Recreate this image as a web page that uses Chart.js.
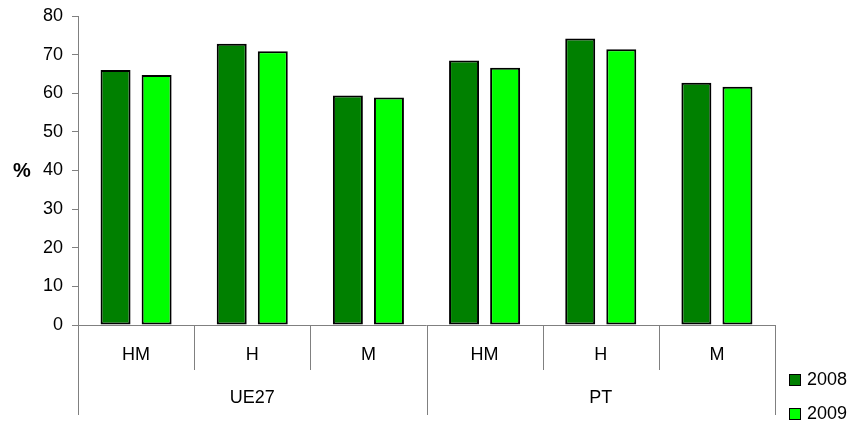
<!DOCTYPE html>
<html>
<head>
<meta charset="utf-8">
<script src="https://cdn.jsdelivr.net/npm/chart.js"></script>
<style>
  html, body { margin: 0; padding: 0; background: #fff; }
  #wrap { width: 857px; height: 423px; position: relative; }
</style>
</head>
<body>
<div id="wrap"><canvas id="chart"></canvas></div>
<script>
// --- Data ---
const groups = ['UE27', 'PT'];
const subLabels = ['HM', 'H', 'M'];
const seriesNames = ['2008', '2009'];
const values2008 = [66.0, 72.8, 59.4, 68.5, 74.2, 62.7];
const values2009 = [64.7, 70.9, 58.9, 66.6, 71.4, 61.7];
const yTicks = [0, 10, 20, 30, 40, 50, 60, 70, 80];

const FONT = "'Liberation Sans', Arial, sans-serif";
const AXIS_GREY = '#808080';

// one category per (group, sub) pair
const categories = [];
groups.forEach(g => subLabels.forEach(s => categories.push(s)));

// --- Custom x axis (two levels) + legend ---
const groupedAxis = {
    id: 'groupedAxis',
    afterDraw(chart) {
        const { ctx, chartArea, scales } = chart;
        const x = scales.x;
        const n = categories.length;
        const step = (chartArea.right - chartArea.left) / n;
        const bottom = chartArea.bottom;

        ctx.save();
        ctx.strokeStyle = AXIS_GREY;
        ctx.lineWidth = 1;

        // axis line at zero
        ctx.beginPath();
        ctx.moveTo(chartArea.left, bottom + 0.5);
        ctx.lineTo(chartArea.right, bottom + 0.5);
        ctx.stroke();

        // dividers
        for (let i = 0; i <= n; i++) {
            const px = Math.round(x.getPixelForValue(i) - step / 2) + 0.5;
            const outer = i % subLabels.length === 0;
            ctx.beginPath();
            ctx.moveTo(px, bottom);
            ctx.lineTo(px, outer ? bottom + 90 : bottom + 45);
            ctx.stroke();
        }

        ctx.fillStyle = '#000';
        ctx.font = '18px ' + FONT;
        ctx.textAlign = 'center';
        ctx.textBaseline = 'middle';
        categories.forEach((c, i) => {
            ctx.fillText(c, x.getPixelForValue(i), bottom + 30);
        });
        groups.forEach((g, gi) => {
            const first = gi * subLabels.length;
            const last = first + subLabels.length - 1;
            const cx = (x.getPixelForValue(first) + x.getPixelForValue(last)) / 2;
            ctx.fillText(g, cx, bottom + 73);
        });

        // y title, upright
        ctx.font = 'bold 20px ' + FONT;
        ctx.fillText('%', 22, (chartArea.top + chartArea.bottom) / 2 + 1);

        // legend
        ctx.font = '18px ' + FONT;
        ctx.textAlign = 'left';
        chart.data.datasets.forEach((ds, i) => {
            const ly = 374 + i * 34;
            ctx.fillStyle = ds.backgroundColor;
            ctx.fillRect(789.5, ly + 0.5, 11, 11);
            ctx.strokeStyle = '#000';
            ctx.strokeRect(789.5, ly + 0.5, 11, 11);
            ctx.fillStyle = '#000';
            ctx.fillText(ds.label, 807, ly + 6);
        });
        ctx.restore();
    }
};

new Chart(document.getElementById('chart'), {
    type: 'bar',
    data: {
        labels: categories,
        datasets: [
            {
                label: seriesNames[0],
                data: values2008,
                backgroundColor: '#008000',
                borderColor: '#000',
                borderWidth: 2,
                borderSkipped: false
            },
            {
                label: seriesNames[1],
                data: values2009,
                backgroundColor: '#00FF00',
                borderColor: '#000',
                borderWidth: 2,
                borderSkipped: false
            }
        ]
    },
    options: {
        responsive: true,
        maintainAspectRatio: false,
        animation: false,
        devicePixelRatio: 1,
        categoryPercentage: 0.707,
        barPercentage: 0.73,
        layout: { padding: { top: 16, right: 82, bottom: 98, left: 0 } },
        scales: {
            x: { display: false },
            y: {
                min: 0,
                max: 80,
                afterFit: s => { s.width = 78; s.paddingTop = 0; s.paddingBottom = 0; },
                afterBuildTicks: s => { s.ticks = yTicks.map(v => ({ value: v })); },
                ticks: {
                    color: '#000',
                    padding: 9,
                    font: { family: FONT, size: 18 }
                },
                border: { color: AXIS_GREY, width: 1 },
                grid: { drawOnChartArea: false, drawTicks: true, tickLength: 6, color: AXIS_GREY }
            }
        },
        plugins: {
            legend: { display: false },
            tooltip: { enabled: false }
        }
    },
    plugins: [groupedAxis]
});
</script>
</body>
</html>
